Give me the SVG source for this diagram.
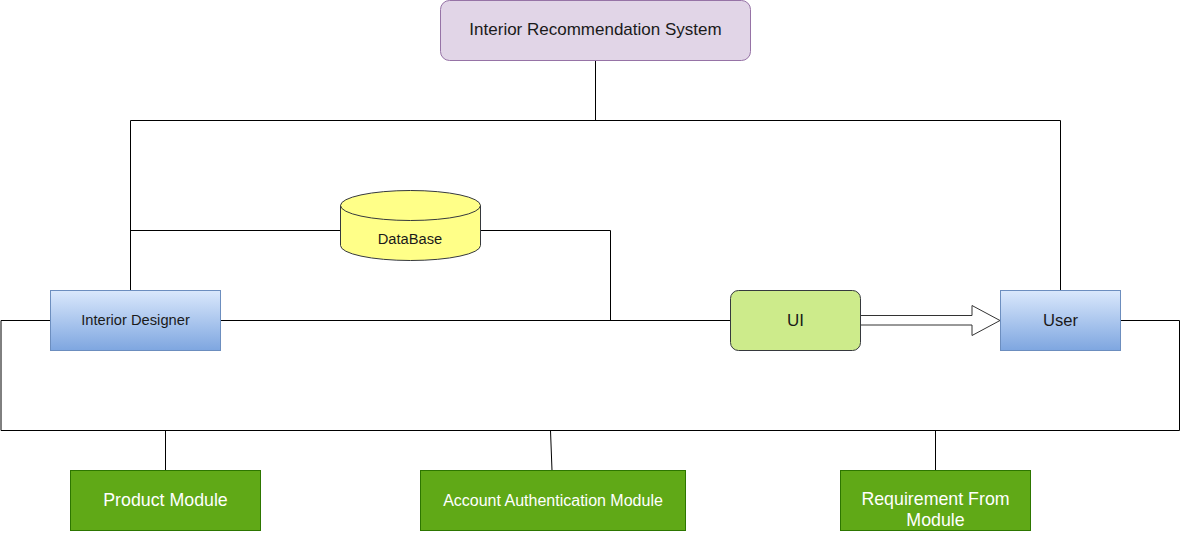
<svg xmlns="http://www.w3.org/2000/svg" width="1182" height="533" viewBox="0 0 1182 533">
<defs>
<linearGradient id="blueGrad" x1="0" y1="0" x2="0" y2="1">
<stop offset="0" stop-color="#dae8fc"/>
<stop offset="1" stop-color="#7ea6e0"/>
</linearGradient>
<style>
.conn{fill:none;stroke:#000;stroke-width:1}
.lbl{font-family:"Liberation Sans",Arial,sans-serif;fill:#1a1a1a;text-anchor:middle}
.wlbl{font-family:"Liberation Sans",Arial,sans-serif;fill:#fff;text-anchor:middle}
.blue{fill:url(#blueGrad);stroke:#6c8ebf;stroke-width:1}
.green{fill:#60a917;stroke:#2d7600;stroke-width:1}
</style>
</defs>
<rect width="1182" height="533" fill="#fff"/>
<g id="connectors">
<path class="conn" d="M595.5 60.5 V120.5"/>
<path class="conn" d="M130.5 290.5 V120.5 H1060.5 V290.5"/>
<path class="conn" d="M130.5 230.5 H340.5"/>
<path class="conn" d="M480.5 230.5 H610.5 V320.5"/>
<path class="conn" d="M220.5 320.5 H730.5"/>
<path class="conn" d="M50.5 320.5 H1 V430.5 H1179.5 V320.5 H1120.5"/>
<path class="conn" d="M165.5 430.5 V470.5"/>
<path class="conn" d="M550.5 430.5 L552 470.5"/>
<path class="conn" d="M935.5 430.5 V470.5"/>
<path d="M860.5 315.5 H972 V305.5 L1000 320.5 L972 335.5 V325 H860.5 Z" fill="#fff" stroke="#333" stroke-width="1"/>
</g>
<g id="title">
<rect x="440.5" y="0.5" width="310" height="60" rx="9" fill="#e1d5e7" stroke="#9673a6"/>
<text class="lbl" x="595.5" y="35" font-size="17">Interior Recommendation System</text>
</g>
<g id="database">
<path d="M340.5 205.5 A70 15 0 0 1 480.5 205.5 V245.5 A70 15 0 0 1 340.5 245.5 Z" fill="#ffff88" stroke="#36393d"/>
<path d="M340.5 205.5 A70 15 0 0 0 480.5 205.5" fill="none" stroke="#36393d"/>
<text class="lbl" x="410" y="244" font-size="14.7">DataBase</text>
</g>
<g id="interior-designer">
<rect class="blue" x="50.5" y="290.5" width="170" height="60"/>
<text class="lbl" x="135.5" y="325" font-size="14.7">Interior Designer</text>
</g>
<g id="ui">
<rect x="730.5" y="290.5" width="130" height="60" rx="8" fill="#cdeb8b" stroke="#36393d"/>
<text class="lbl" x="795.5" y="326" font-size="17">UI</text>
</g>
<g id="user">
<rect class="blue" x="1000.5" y="290.5" width="120" height="60"/>
<text class="lbl" x="1060.5" y="325.5" font-size="16.6">User</text>
</g>
<g id="product-module">
<rect class="green" x="70.5" y="470.5" width="190" height="60"/>
<text class="wlbl" x="165.5" y="505.5" font-size="17.8">Product Module</text>
</g>
<g id="account-module">
<rect class="green" x="420.5" y="470.5" width="265" height="60"/>
<text class="wlbl" x="553" y="505.5" font-size="16">Account Authentication Module</text>
</g>
<g id="requirement-module">
<rect class="green" x="840.5" y="470.5" width="190" height="60"/>
<text class="wlbl" x="935.5" y="505" font-size="17.8">Requirement From</text>
<text class="wlbl" x="935.5" y="526" font-size="17.8">Module</text>
</g>
</svg>
